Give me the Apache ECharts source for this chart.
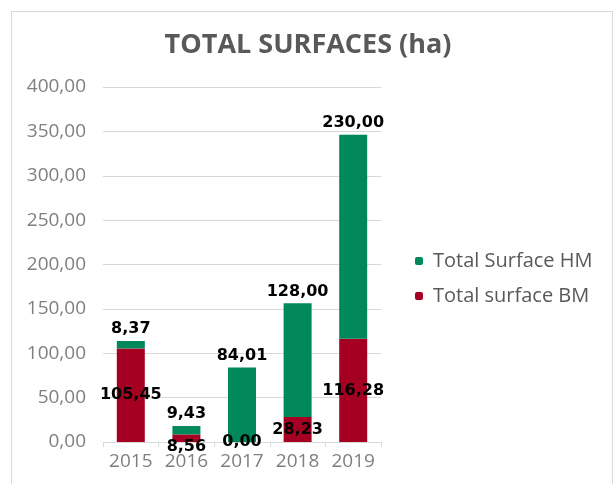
<!DOCTYPE html>
<html>
<head>
<meta charset="utf-8">
<script src="https://cdn.jsdelivr.net/npm/echarts@6/dist/echarts.min.js"></script>
<style>
  html, body { margin: 0; padding: 0; background: #fff; }
  #chart { width: 616px; height: 484px; }
</style>
</head>
<body>
<div id="chart"></div>
<script>
const years = ["2015", "2016", "2017", "2018", "2019"];
const surfaceBM = [105.45, 8.56, 0.0, 28.23, 116.28];
const surfaceHM = [8.37, 9.43, 84.01, 128.0, 230.0];
const yTicks = [0, 50, 100, 150, 200, 250, 300, 350, 400];

const fmt = (v) => Number(v).toFixed(2).replace(".", ",");

const myChart = echarts.init(document.getElementById("chart"));

const labelStyle = {
  show: true,
  fontFamily: "DejaVu Sans",
  fontWeight: "bold",
  fontSize: 16,
  color: "#000",
  formatter: (p) => fmt(p.value),
};

// the small 2016 label sits just under the axis in the original
const bmData = surfaceBM.map((v, i) =>
  i === 1 ? { value: v, label: { offset: [0, 9] } } : v
);

const option = {
  animation: false,
  title: {
    text: "TOTAL SURFACES (ha)",
    left: "center",
    top: 27,
    textStyle: {
      fontFamily: "Open Sans",
      fontWeight: "bold",
      fontSize: 27,
      color: "#595959",
    },
  },
  graphic: [
    {
      type: "rect",
      shape: { x: 11.5, y: 11.5, width: 601, height: 480 },
      style: { fill: "none", stroke: "#d9d9d9", lineWidth: 1 },
      silent: true,
    },
  ],
  legend: {
    orient: "vertical",
    left: 410,
    top: 246,
    itemWidth: 8,
    itemHeight: 8,
    itemGap: 15,
    data: ["Total Surface HM", "Total surface BM"],
    textStyle: {
      fontFamily: "Open Sans",
      fontSize: 20,
      color: "#595959",
      padding: [0, 0, 0, 5],
    },
  },
  grid: { left: 103, right: 235, top: 87, bottom: 42 },
  xAxis: {
    type: "category",
    data: years,
    axisLine: { lineStyle: { color: "#d9d9d9" } },
    axisTick: { show: true, length: 5, lineStyle: { color: "#d9d9d9" } },
    axisLabel: {
      interval: 0,
      fontFamily: "Open Sans",
      fontSize: 19,
      color: "#7f7f7f",
      margin: 10,
    },
  },
  yAxis: {
    type: "value",
    min: yTicks[0],
    max: yTicks[yTicks.length - 1],
    interval: 50,
    splitLine: { lineStyle: { color: "#d9d9d9" } },
    axisLabel: {
      fontFamily: "Open Sans",
      fontSize: 19,
      color: "#7f7f7f",
      margin: 17,
      formatter: (v) => fmt(v),
    },
  },
  series: [
    {
      name: "Total surface BM",
      type: "bar",
      stack: "total",
      barWidth: 28,
      data: bmData,
      itemStyle: { color: "#a50021" },
      label: Object.assign({}, labelStyle, { position: "inside" }),
    },
    {
      name: "Total Surface HM",
      type: "bar",
      stack: "total",
      barWidth: 28,
      data: surfaceHM,
      itemStyle: { color: "#00875a" },
      label: Object.assign({}, labelStyle, { position: "top", distance: 4 }),
    },
  ],
};

myChart.setOption(option);
</script>
</body>
</html>
